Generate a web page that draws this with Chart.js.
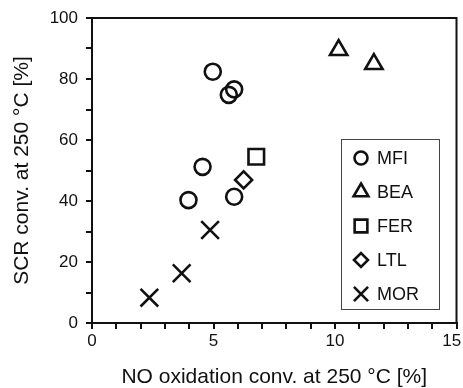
<!DOCTYPE html>
<html>
<head>
<meta charset="utf-8">
<script src="https://cdn.jsdelivr.net/npm/chart.js@4/dist/chart.umd.min.js"></script>
<style>
  html, body { margin: 0; padding: 0; background: #fff; }
  #wrap { width: 463px; height: 388px; }
</style>
</head>
<body>
<div id="wrap"><canvas id="chart" width="463" height="388"></canvas></div>
<script>
// Données
const seriesNames = ["MFI", "BEA", "FER", "LTL", "MOR"];
const mfiX = [4.97, 5.63, 5.85, 4.55, 3.97, 5.85];
const mfiY = [82.4, 74.8, 76.6, 51.2, 40.3, 41.4];
const beaX = [10.15, 11.6];
const beaY = [89.5, 84.9];
const ferX = [6.76];
const ferY = [54.5];
const ltlX = [6.24];
const ltlY = [46.9];
const morX = [2.36, 3.69, 4.86];
const morY = [8.3, 16.3, 30.5];

const xTicks = [0, 5, 10, 15];
const yTicks = [0, 20, 40, 60, 80, 100];

function pts(xs, ys) {
  return xs.map((x, i) => ({ x: x, y: ys[i] }));
}

const font = "Liberation Sans, Arial, Helvetica, sans-serif";
const ink = "#111";

const styles = [
  { style: "circle", r: 8, lr: 6.5 },
  { style: "triangle", r: 10, lr: 8.5 },
  { style: "rect", r: 11, lr: 9 },
  { style: "rectRot", r: 8.5, lr: 7 },
  { style: "crossRot", r: 12.5, lr: 10 },
];

const allData = [
  pts(mfiX, mfiY),
  pts(beaX, beaY),
  pts(ferX, ferY),
  pts(ltlX, ltlY),
  pts(morX, morY),
];

const datasets = seriesNames.map((name, i) => ({
  label: name,
  data: allData[i],
  pointStyle: styles[i].style,
  pointRadius: styles[i].r,
  pointHoverRadius: styles[i].r,
  borderColor: ink,
  backgroundColor: "rgba(0,0,0,0)",
  pointBorderWidth: 2.6,
  showLine: false,
}));

// Cadre + légende dessinés à la main
const framePlugin = {
  id: "frame",
  afterDraw(chart) {
    const { ctx, chartArea: a } = chart;
    ctx.save();
    ctx.strokeStyle = ink;
    ctx.lineWidth = 2;
    ctx.strokeRect(a.left, a.top, a.right - a.left, a.bottom - a.top);

    // légende
    const bx = 341, by = 139.5, bw = 98, bh = 170;
    ctx.fillStyle = "#fff";
    ctx.fillRect(bx, by, bw, bh);
    ctx.lineWidth = 1;
    ctx.strokeStyle = "#444";
    ctx.strokeRect(bx + 0.5, by, bw, bh);
    ctx.font = "18px " + font;
    ctx.textBaseline = "middle";
    seriesNames.forEach((name, i) => {
      const y = 158 + i * 34;
      ctx.strokeStyle = ink;
      ctx.fillStyle = "rgba(0,0,0,0)";
      ctx.lineWidth = 2.6;
      Chart.helpers.drawPoint(ctx, {
        pointStyle: styles[i].style,
        radius: styles[i].lr,
        rotation: 0,
        borderWidth: 2.6,
      }, 361, y);
      ctx.fillStyle = ink;
      ctx.fillText(name, 377, y + 1);
    });
    ctx.restore();
  },
};

// le dernier libellé est décalé vers la gauche comme sur la figure
function xLabel(v) {
  if (!xTicks.includes(v)) return "";
  return v === 15 ? v + "  " : v;
}

new Chart(document.getElementById("chart"), {
  type: "scatter",
  data: { datasets },
  options: {
    responsive: false,
    animation: false,
    layout: {
      autoPadding: false,
      padding: { top: 18, right: 6.5, left: 0, bottom: 0 },
    },
    plugins: { legend: { display: false }, tooltip: { enabled: false } },
    scales: {
      x: {
        type: "linear",
        min: 0,
        max: 15,
        border: { color: ink, width: 2 },
        grid: { drawOnChartArea: false, color: ink, lineWidth: 2, tickLength: 6 },
        ticks: {
          stepSize: 1,
          autoSkip: false,
          maxRotation: 0,
          color: ink,
          font: { family: font, size: 17 },
          padding: 2,
          callback: xLabel,
        },
        title: {
          display: true,
          text: "NO oxidation conv. at 250 °C [%]",
          color: ink,
          font: { family: font, size: 21, lineHeight: 1 },
          padding: { top: 0, bottom: 0 },
        },
        afterFit: (s) => {
          s.height = 65;
          s.paddingLeft = 0;
          s.paddingRight = 0;
        },
      },
      y: {
        type: "linear",
        min: 0,
        max: 100,
        border: { color: ink, width: 2 },
        grid: { drawOnChartArea: false, color: ink, lineWidth: 2, tickLength: 6 },
        ticks: {
          stepSize: 10,
          autoSkip: false,
          color: ink,
          font: { family: font, size: 17 },
          padding: 8,
          callback: (v) => (yTicks.includes(v) ? v : ""),
        },
        title: {
          display: true,
          text: "SCR conv. at 250 °C [%]",
          color: ink,
          font: { family: font, size: 21, lineHeight: 1 },
          padding: { top: 12, bottom: 0 },
        },
        afterFit: (s) => {
          s.width = 92;
          s.paddingTop = 0;
          s.paddingBottom = 0;
        },
      },
    },
  },
  plugins: [framePlugin],
});
</script>
</body>
</html>
